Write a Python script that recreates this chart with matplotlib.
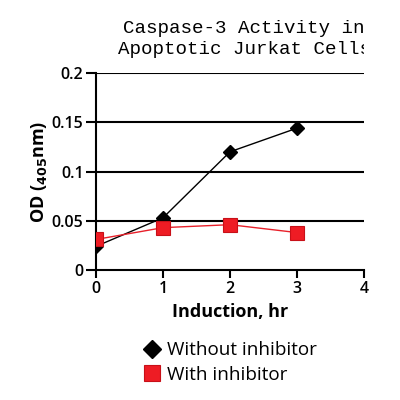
import matplotlib
matplotlib.use("Agg")
import matplotlib.pyplot as plt
from matplotlib.lines import Line2D
from matplotlib.transforms import Bbox, TransformedBbox

hours = [0, 1, 2, 3]
without_inhibitor = [0.024, 0.053, 0.120, 0.144]
with_inhibitor = [0.031, 0.043, 0.046, 0.038]
x_ticks = [0, 1, 2, 3, 4]
y_ticks = [0, 0.05, 0.1, 0.15, 0.2]
y_tick_labels = ["0", "0.05", "0.1", "0.15", "0.2"]
title_text = "Caspase-3 Activity in\nApoptotic Jurkat Cells"
series_names = ["Without inhibitor", "With inhibitor"]

plt.rcParams['font.family'] = ['Open Sans', 'DejaVu Sans']

fig = plt.figure(figsize=(4, 4), dpi=100)
ax = fig.add_axes([0.24, 0.325, 0.67, 0.4925])

for y in y_ticks[1:]:
    ax.axhline(y, color='black', lw=1.5, zorder=1)

ax.plot(hours, without_inhibitor, color='black', lw=1, marker='D', ms=7,
        mfc='black', mec='black', zorder=3)
ax.plot(hours, with_inhibitor, color='#e8202a', lw=1, marker='s', ms=10,
        mfc='#ee1c24', mec='#c81018', mew=0.8, zorder=3)

ax.set_xlim(0, 4)
ax.set_ylim(0, 0.2)
ax.set_xticks(x_ticks)
ax.set_yticks(y_ticks)
ax.set_yticklabels(y_tick_labels)
for s in ['top', 'right']:
    ax.spines[s].set_visible(False)
for s in ['left', 'bottom']:
    ax.spines[s].set_linewidth(1.5)
ax.tick_params(axis='both', width=1.5, length=6, labelsize=11.5, pad=2)
ax.tick_params(axis='y', length=7)
for lab in ax.get_xticklabels() + ax.get_yticklabels():
    lab.set_fontweight('semibold')

ax.set_xlabel("Induction, hr", fontsize=13, fontweight='bold', labelpad=4)
ax.set_ylabel(r"OD ($_{\mathbf{405}}$nm)", fontsize=13, fontweight='bold', labelpad=2)

t = fig.text(0.61, 0.902, title_text, ha='center', va='center',
             family='Liberation Mono', fontsize=13.8, linespacing=1.35)
t.set_clip_on(True)
t.set_clip_box(TransformedBbox(Bbox([[0, 0], [0.91, 1]]), fig.transFigure))

handles = [Line2D([], [], ls='none', marker='D', ms=9, mfc='black', mec='black'),
           Line2D([], [], ls='none', marker='s', ms=11, mfc='#ee1c24', mec='#c81018', mew=0.8)]
fig.legend(handles, series_names, loc='upper left', bbox_to_anchor=(0.333, 0.17),
           frameon=False, fontsize=13.6, handlelength=1.0, handletextpad=0.3,
           labelspacing=0.35, borderpad=0)

fig.savefig("out.png", dpi=100)
